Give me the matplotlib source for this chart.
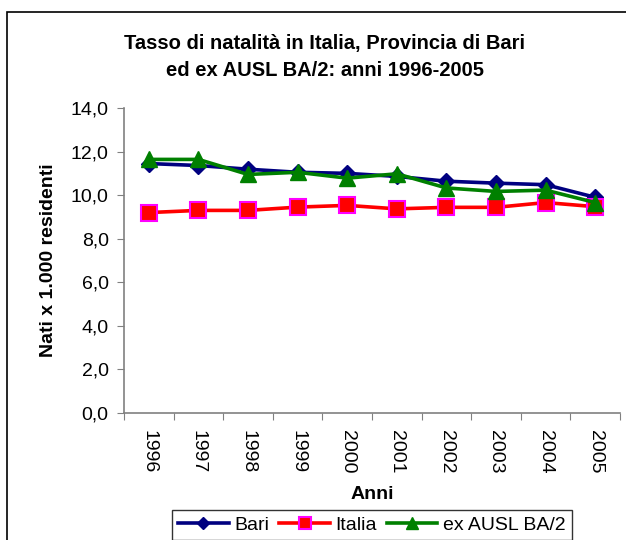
import matplotlib
matplotlib.use("Agg")
import matplotlib.pyplot as plt
from matplotlib.patches import Rectangle
from matplotlib.ticker import FuncFormatter

plt.rcParams["font.family"] = ["Liberation Sans", "DejaVu Sans"]

# -----------------------------
# Data
# -----------------------------
years = ["1996", "1997", "1998", "1999", "2000", "2001", "2002", "2003", "2004", "2005"]
bari = [11.45, 11.36, 11.19, 11.05, 11.0, 10.86, 10.64, 10.55, 10.48, 9.9]
italia = [9.2, 9.3, 9.3, 9.45, 9.53, 9.37, 9.44, 9.44, 9.66, 9.47]
ausl_ba2 = [11.64, 11.64, 10.95, 11.05, 10.78, 10.98, 10.33, 10.17, 10.23, 9.66]

fig = plt.figure(figsize=(6.26, 5.4), dpi=100)
W, H = 626, 540

# outer chart frame (cropped at right and bottom like the reference)
fig.patches.append(Rectangle((7 / W, -0.1), 1.2, 1.1 - 12 / H,
                             transform=fig.transFigure, fill=False,
                             edgecolor="black", linewidth=1.2))

ax = fig.add_axes([124 / W, 1 - 413 / H, (620 - 124) / W, (413 - 108) / H])

x = list(range(len(years)))
ax.plot(x, bari, color="#000080", linewidth=2.6, marker="D", markersize=8,
        label="Bari", zorder=3)
ax.plot(x, italia, color="#ff0000", linewidth=2.6, marker="s", markersize=12,
        markerfacecolor="#ff0000", markeredgecolor="#ff00ff", markeredgewidth=1.5,
        label="Italia", zorder=3)
ax.plot(x, ausl_ba2, color="#008000", linewidth=2.6, marker="^", markersize=12,
        label="ex AUSL BA/2", zorder=4)

ax.set_xlim(-0.5, len(years) - 0.5)
ax.set_ylim(0, 14)
ax.set_yticks([0, 2, 4, 6, 8, 10, 12, 14])
ax.yaxis.set_major_formatter(FuncFormatter(lambda v, p: f"{v:.1f}".replace(".", ",")))
ax.set_xticks([i - 0.5 for i in range(len(years) + 1)], minor=False)
ax.set_xticklabels([])
ax.set_xticks(x, minor=True)
ax.set_xticklabels(years, minor=True, rotation=-90, fontsize=14)
ax.tick_params(axis="x", which="major", direction="out", length=5, color="#808080")
ax.tick_params(axis="x", which="minor", length=0, pad=12)
ax.tick_params(axis="y", direction="out", length=5, color="#808080", labelsize=14,
               pad=6)

for side in ["top", "right"]:
    ax.spines[side].set_visible(False)
for side in ["left", "bottom"]:
    ax.spines[side].set_color("#808080")
    ax.spines[side].set_linewidth(1.2)

ax.set_xlabel("Anni", fontsize=14, fontweight="bold", labelpad=9)
ax.set_ylabel("Nati x 1.000 residenti", fontsize=14, fontweight="bold", labelpad=10)

fig.text(325 / W, 1 - 43 / H, "Tasso di natalità in Italia, Provincia di Bari",
         ha="center", va="center", fontsize=14.5, fontweight="bold")
fig.text(325 / W, 1 - 71 / H, "ed ex AUSL BA/2: anni 1996-2005",
         ha="center", va="center", fontsize=14.5, fontweight="bold")

leg = fig.legend(loc="center", bbox_to_anchor=(372 / W, 1 - 525 / H), ncol=3,
                 fontsize=14, frameon=True, fancybox=False, edgecolor="black",
                 handlelength=2.6, handletextpad=0.3, columnspacing=0.5,
                 borderpad=0.3, markerscale=0.75)
leg.get_frame().set_linewidth(1.0)

fig.savefig("out.png", dpi=100)
